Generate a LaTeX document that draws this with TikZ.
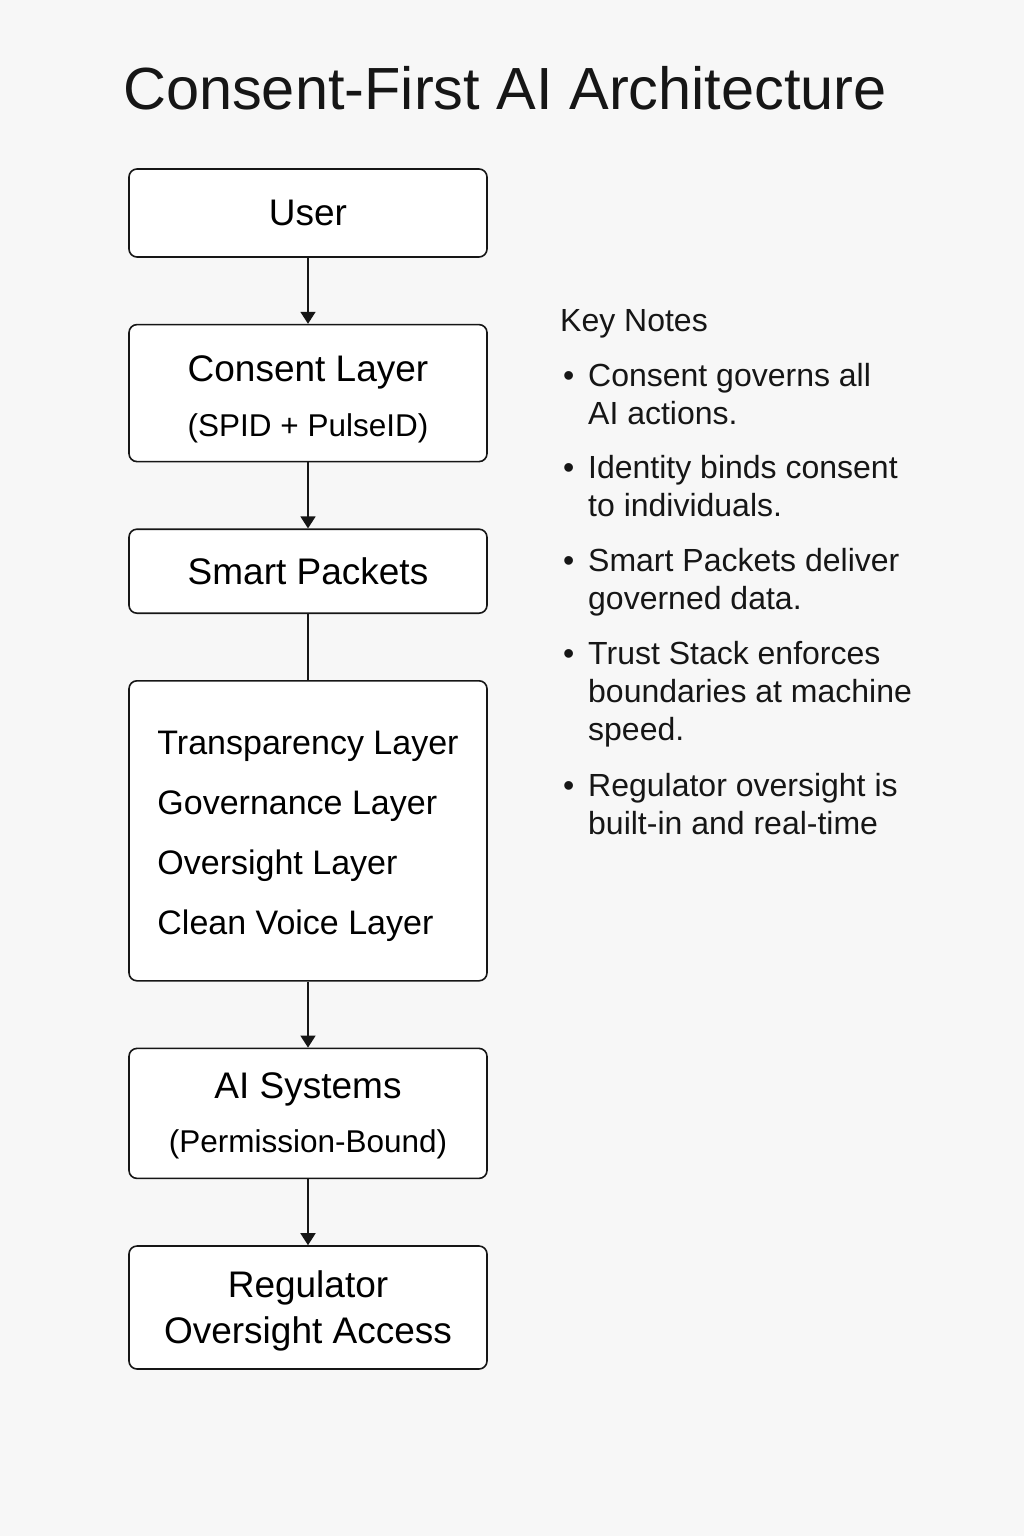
\documentclass[tikz,border=0pt]{standalone}
\usepackage{fontspec}
\setmainfont{Liberation Sans}
\usetikzlibrary{arrows.meta, positioning}
\definecolor{pagebg}{RGB}{247,247,247}
\definecolor{inkcolor}{RGB}{22,22,22}
\newcommand{\subline}[1]{{\fontsize{31.5}{38}\selectfont #1}}
\newcommand{\bul}{\makebox[28pt][l]{\hspace{3pt}\textbullet}}
\newcommand{\ind}{\hspace*{28pt}}

\begin{document}
\begin{tikzpicture}[
    x=1pt, y=-1pt,
    >={Triangle[length=12pt, width=15pt]},
    box/.style={draw=inkcolor, line width=1.6pt, rounded corners=8pt, fill=white, minimum width=358pt, align=center, inner sep=0pt, font=\fontsize{37}{46}\selectfont},
    link/.style={line width=1.6pt, draw=inkcolor},
    note/.style={anchor=north west, align=left, inner sep=0pt, text=inkcolor, font=\fontsize{32}{38}\selectfont},
    node distance=66pt,
]
    % page
    \fill[pagebg] (0,0) rectangle (1024,1536);
    \useasboundingbox (0,0) rectangle (1024,1536);

    \node[font=\fontsize{59.5}{70}\selectfont, text=inkcolor] (title) at (505,88) {Consent-First AI Architecture};

    % main flow
    \node[box, minimum height=88pt] (user) at (308,213) {User};
    \node[box, minimum height=137pt, below=of user] (consent) {\rule{0pt}{38pt}Consent Layer\\[9pt]\subline{(SPID + PulseID)}};
    \node[box, minimum height=84pt, below=of consent] (packets) {Smart Packets};
    \node[box, minimum height=300pt, below=of packets, align=left, font=\fontsize{34}{60}\selectfont] (stack) {\rule{0pt}{35pt}Transparency Layer\\Governance Layer\\Oversight Layer\\Clean Voice Layer};
    \node[box, minimum height=130pt, below=of stack] (aisys) {\rule{0pt}{31pt}AI Systems\\[8pt]\subline{(Permission-Bound)}};
    \node[box, minimum height=123pt, below=of aisys] (regulator) {\rule{0pt}{33pt}Regulator\\Oversight Access};

    \draw[link, ->] (user) -- (consent);
    \draw[link, ->] (consent) -- (packets);
    \draw[link] (packets) -- (stack);
    \draw[link, ->] (stack) -- (aisys);
    \draw[link, ->] (aisys) -- (regulator);

    % key notes
    \node[anchor=base west, inner sep=0pt, text=inkcolor, font=\fontsize{32}{38}\selectfont] (keynotes) at (560,331) {Key Notes};
    \node[note] (note1) at (560,363) {\bul Consent governs all\\\ind AI actions.};
    \node[note] (note2) at (560,455) {\bul Identity binds consent\\\ind to individuals.};
    \node[note] (note3) at (560,548) {\bul Smart Packets deliver\\\ind governed data.};
    \node[note] (note4) at (560,641) {\bul Trust Stack enforces\\\ind boundaries at machine\\\ind speed.};
    \node[note] (note5) at (560,773) {\bul Regulator oversight is\\\ind built-in and real-time};
\end{tikzpicture}
\end{document}
